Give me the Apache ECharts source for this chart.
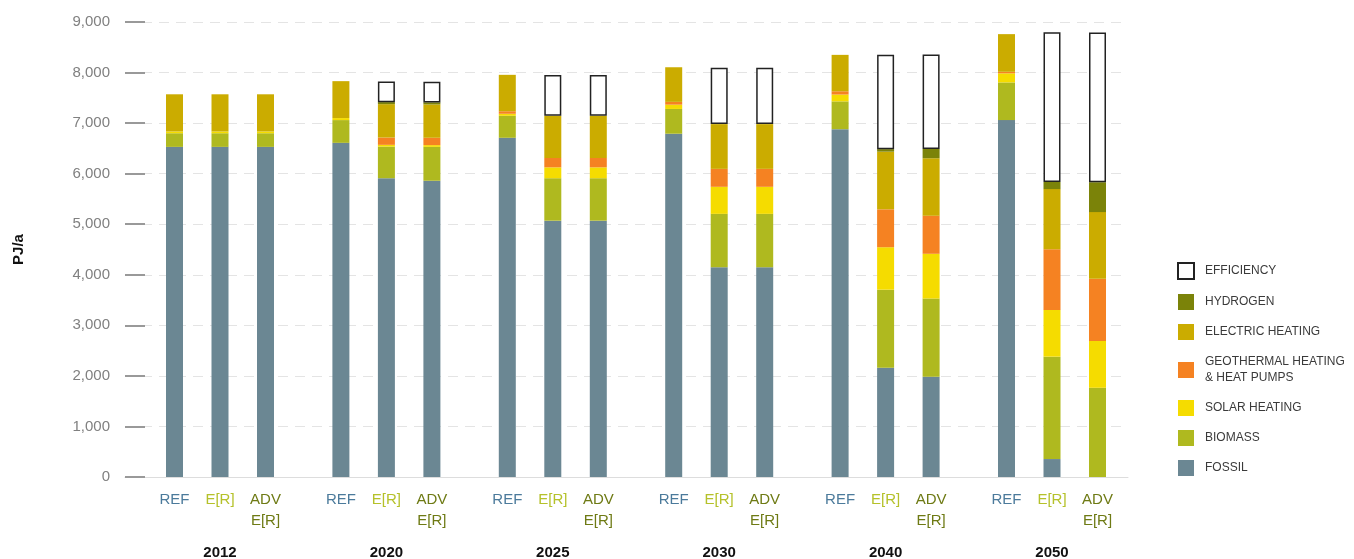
<!DOCTYPE html>
<html><head><meta charset="utf-8">
<script src="https://cdn.jsdelivr.net/npm/echarts@6/dist/echarts.min.js"></script>
<style>html,body{margin:0;padding:0;background:#fff}#c{width:1354px;height:559px}</style>
</head><body><div id="c"></div><script>
// Categories
const years = ['2012', '2020', '2025', '2030', '2040', '2050'];
const scenarios = ['REF', 'E[R]', 'ADV\nE[R]'];
// Values in PJ/a, order per year: REF, E[R], ADV E[R]
const fossil     = [6530, 6530, 6530,  6610, 5910, 5860,  6710, 5070, 5070,  6790, 4150, 4150,  6880, 2160, 1985,  7060, 355, 0];
const biomass    = [ 270,  270,  270,   450,  625,  670,   435,  840,  840,   490, 1055, 1055,   550, 1545, 1545,   745, 2025, 1765];
const solar      = [  35,   35,   35,    40,   35,   35,    40,  215,  215,    85,  535,  535,   135,  840,  885,   180,  925,  925];
const geothermal = [   0,    0,    0,     0,  145,  145,    50,  185,  185,    55,  355,  355,    65,  750,  755,    30, 1200, 1230];
const electric   = [ 735,  735,  735,   730,  660,  660,   720,  835,  835,   685,  885,  885,   720, 1140, 1135,   745, 1190, 1320];
const hydrogen   = [   0,    0,    0,     0,   40,   40,     0,    0,    0,     0,    0,    0,     0,   50,  185,     0,  140,  590];
const efficiency = [   0,    0,    0,     0,  410,  410,     0,  805,  805,     0, 1115, 1115,     0, 1865, 1865,     0, 2960, 2960];

const seriesDefs = [
  {name: 'FOSSIL', data: fossil, color: '#6b8793'},
  {name: 'BIOMASS', data: biomass, color: '#afb91f'},
  {name: 'SOLAR HEATING', data: solar, color: '#f5dc00'},
  {name: 'GEOTHERMAL HEATING\n& HEAT PUMPS', data: geothermal, color: '#f58222'},
  {name: 'ELECTRIC HEATING', data: electric, color: '#cbac00'},
  {name: 'HYDROGEN', data: hydrogen, color: '#7b8309'},
  {name: 'EFFICIENCY', data: efficiency, color: '#ffffff', border: '#222'}
];
const labelColors = ['#4b7a9b', '#b5c12a', '#6e7a14'];

const FONT = 'Liberation Sans';
const grids = [{left: 125, right: 226, top: 22, bottom: 82, outerBoundsMode: 'none'}];
const xAxes = [{
  gridIndex: 0, type: 'value', min: 0, max: 1,
  axisLine: {show: true, lineStyle: {color: '#dddddd', width: 1}},
  axisTick: {show: false}, axisLabel: {show: false}, splitLine: {show: false}
}];
const yAxes = [{
  gridIndex: 0, type: 'value', min: 0, max: 9000, interval: 1000,
  name: 'PJ/a', nameLocation: 'middle', nameGap: 99,
  nameTextStyle: {fontFamily: FONT, fontWeight: 'bold', fontSize: 15, color: '#111'},
  axisLine: {show: false},
  axisTick: {show: true, inside: true, length: 20, lineStyle: {color: '#999', width: 2}},
  axisLabel: {margin: 15, fontFamily: FONT, fontSize: 15, color: '#808080',
    formatter: v => v.toLocaleString('en-US')},
  splitLine: {show: true, lineStyle: {color: '#e4e4e4', type: [10, 7], width: 1.2}}
}];
const rich = {};
labelColors.forEach((c, i) => { rich['s' + i] = {color: c, fontFamily: FONT, fontSize: 15, lineHeight: 21}; });

years.forEach((yr, g) => {
  grids.push({left: 151.75 + 166.4 * g, width: 136.5, top: 22, bottom: 82, outerBoundsMode: 'none'});
  xAxes.push({
    gridIndex: g + 1, type: 'category', data: scenarios,
    name: yr, nameLocation: 'middle', nameGap: 68,
    nameTextStyle: {fontFamily: FONT, fontWeight: 'bold', fontSize: 15, color: '#111'},
    axisLine: {show: false}, axisTick: {show: false},
    axisLabel: {margin: 12, interval: 0,
      formatter: (v, i) => v.split('\n').map(l => '{s' + i + '|' + l + '}').join('\n'),
      rich: rich}
  });
  yAxes.push({gridIndex: g + 1, type: 'value', min: 0, max: 9000, show: false});
});

const series = [];
years.forEach((yr, g) => {
  seriesDefs.forEach(sd => {
    series.push({
      type: 'bar', name: sd.name, stack: 'y' + g,
      xAxisIndex: g + 1, yAxisIndex: g + 1,
      barWidth: 17,
      data: sd.data.slice(g * 3, g * 3 + 3).map(v => (v === 0 ? '-' : v)),
      itemStyle: sd.border ? {color: sd.color, borderColor: sd.border, borderWidth: 1.5}
                           : {color: sd.color},
      emphasis: {disabled: true}
    });
  });
});

const chart = echarts.init(document.getElementById('c'), null, {renderer: 'canvas'});
chart.setOption({
  animation: false,
  grid: grids, xAxis: xAxes, yAxis: yAxes, series: series,
  legend: {
    orient: 'vertical', left: 1172, top: 257,
    itemWidth: 16, itemHeight: 16, itemGap: 14, icon: 'rect',
    data: ['EFFICIENCY', 'HYDROGEN', 'ELECTRIC HEATING', 'GEOTHERMAL HEATING\n& HEAT PUMPS', 'SOLAR HEATING', 'BIOMASS', 'FOSSIL'],
    textStyle: {fontFamily: FONT, fontSize: 12, color: '#3a3a3a', lineHeight: 16, padding: [0, 0, 0, 6]}
  }
});
</script></body></html>
